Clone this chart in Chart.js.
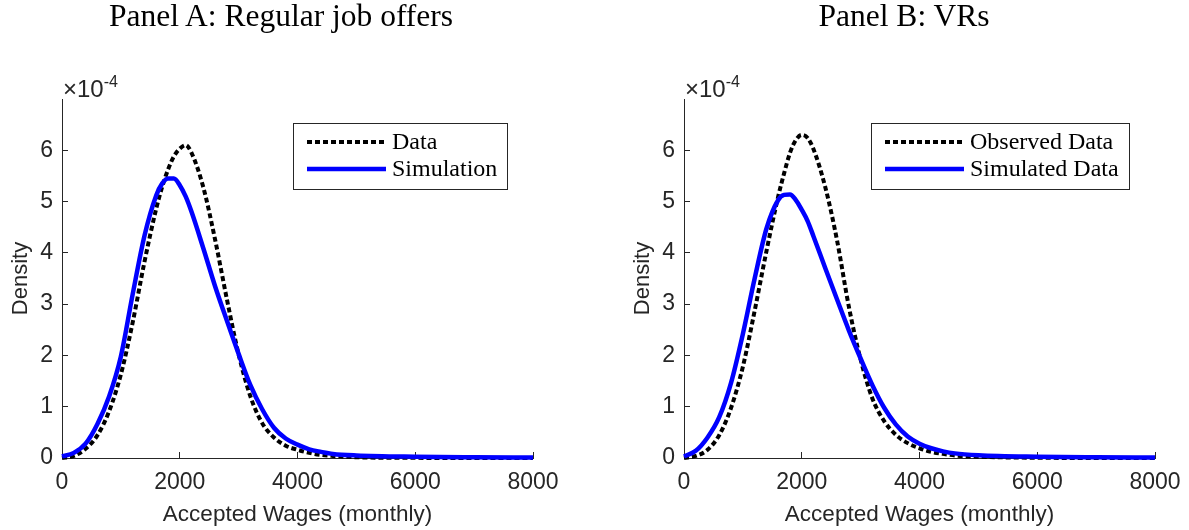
<!DOCTYPE html>
<html>
<head>
<meta charset="utf-8">
<script src="https://cdn.jsdelivr.net/npm/chart.js@4.4.1/dist/chart.umd.min.js"></script>
<style>
  html, body { margin: 0; padding: 0; background: #fff; }
  body { width: 1189px; height: 530px; position: relative; overflow: hidden; }
  .panel { position: absolute; top: 0; width: 567px; height: 530px; }
  .panel-title { position: absolute; top: -2px; font-family: "Liberation Serif", "Times New Roman", serif;
    font-size: 31.5px; line-height: 36px; text-align: center; color: #000; white-space: nowrap; }
</style>
</head>
<body>
<div class="panel" style="left:0"><canvas id="chartA" width="567" height="530"></canvas></div>
<div class="panel" style="left:622px"><canvas id="chartB" width="567" height="530"></canvas></div>
<div class="panel-title" style="left:0;width:562px">Panel A: Regular job offers</div>
<div class="panel-title" style="left:622px;width:564px">Panel B: VRs</div>
<script>
// wage grid (monthly), shared by all curves
const wages = [0, 200, 400, 600, 800, 1000, 1200, 1400, 1600, 1700, 1800, 1900, 2000, 2100, 2200,
  2400, 2600, 2800, 3000, 3200, 3400, 3600, 3800, 4000, 4200, 4400, 4600, 5000, 6000, 7000, 8000];

// densities in units of 1e-4
const panelAData = [0.00, 0.04, 0.18, 0.44, 0.91, 1.63, 2.64, 3.82, 4.86, 5.28, 5.62, 5.88, 6.03, 6.10, 5.95,
  5.28, 4.26, 3.10, 2.02, 1.20, 0.68, 0.40, 0.24, 0.16, 0.10, 0.06, 0.04, 0.015, 0.003, 0.001, 0.00];
const panelASim = [0.03, 0.10, 0.28, 0.66, 1.20, 1.98, 3.19, 4.33, 5.12, 5.35, 5.45, 5.45, 5.32, 5.10, 4.80,
  4.09, 3.35, 2.68, 2.03, 1.42, 0.95, 0.59, 0.38, 0.26, 0.17, 0.12, 0.08, 0.05, 0.025, 0.015, 0.01];
const panelBObs = [0.00, 0.04, 0.16, 0.45, 0.98, 1.78, 2.87, 4.03, 5.10, 5.55, 5.95, 6.20, 6.30, 6.24, 6.02,
  5.28, 4.24, 2.95, 1.92, 1.16, 0.72, 0.45, 0.29, 0.19, 0.12, 0.08, 0.05, 0.025, 0.005, 0.001, 0.00];
const panelBSim = [0.03, 0.14, 0.40, 0.80, 1.47, 2.42, 3.50, 4.47, 5.03, 5.13, 5.14, 5.03, 4.84, 4.62, 4.32,
  3.70, 3.09, 2.49, 1.94, 1.42, 0.98, 0.65, 0.42, 0.28, 0.19, 0.13, 0.09, 0.055, 0.026, 0.015, 0.01];

const xTicks = [0, 2000, 4000, 6000, 8000];
const yTicks = [0, 1, 2, 3, 4, 5, 6];

const axisColor = '#262626';
const sansFont = '"Liberation Sans", Arial, sans-serif';
const serifFont = '"Liberation Serif", "Times New Roman", serif';

const toPoints = ys => wages.map((w, i) => ({ x: w, y: ys[i] }));

// boxed legend in the upper right corner of the axes (matlab style)
const boxLegend = {
  id: 'boxLegend',
  afterDraw(chart) {
    const { ctx, chartArea } = chart;
    const sets = chart.data.datasets;
    ctx.save();
    ctx.font = '24px ' + serifFont;
    const textW = Math.max(...sets.map(d => ctx.measureText(d.label).width));
    const w = Math.round(14 + 79 + 6 + textW + 10);
    const h = 66;
    const right = chartArea.right - 26;
    const top = chartArea.top + 24;
    const left = right - w;
    ctx.fillStyle = '#fff';
    ctx.fillRect(left, top, w, h);
    ctx.strokeStyle = axisColor;
    ctx.lineWidth = 1;
    ctx.strokeRect(left + 0.5, top + 0.5, w, h);
    sets.forEach((d, i) => {
      const y = top + 19 + i * 27;
      ctx.beginPath();
      ctx.setLineDash(d.borderDash || []);
      ctx.lineWidth = d.borderWidth;
      ctx.strokeStyle = d.borderColor;
      ctx.moveTo(left + 14, y);
      ctx.lineTo(left + 93, y);
      ctx.stroke();
      ctx.setLineDash([]);
      ctx.fillStyle = '#000';
      ctx.textBaseline = 'middle';
      ctx.textAlign = 'left';
      ctx.fillText(d.label, left + 99, y + 1);
    });
    ctx.restore();
  }
};

// "x10^-4" multiplier above the y axis
const exponentLabel = {
  id: 'exponentLabel',
  afterDraw(chart) {
    const { ctx, chartArea } = chart;
    ctx.save();
    ctx.fillStyle = axisColor;
    ctx.textBaseline = 'alphabetic';
    ctx.textAlign = 'left';
    ctx.font = '24px ' + sansFont;
    const x0 = chartArea.left + 1;
    const base = chartArea.top - 2;
    ctx.fillText('\u00d710', x0, base);
    const w = ctx.measureText('\u00d710').width;
    ctx.font = '16px ' + sansFont;
    ctx.fillText('-4', x0 + w, base - 10.5);
    ctx.restore();
  }
};

function makeChart(id, obs, sim, labels) {
  return new Chart(document.getElementById(id), {
    type: 'line',
    data: {
      datasets: [
        { label: labels[0], data: toPoints(obs), borderColor: '#000000', borderWidth: 4,
          borderDash: [5, 3], order: 1, clip: false },
        { label: labels[1], data: toPoints(sim), borderColor: '#0000ff', borderWidth: 4.5,
          order: 0, clip: false }
      ]
    },
    options: {
      responsive: false,
      animation: false,
      layout: { padding: { top: 99, right: 34, bottom: 0, left: 0 } },
      elements: {
        point: { radius: 0 },
        line: { cubicInterpolationMode: 'monotone', borderCapStyle: 'butt', fill: false }
      },
      plugins: {
        legend: { display: false },
        tooltip: { enabled: false },
        title: { display: false }
      },
      scales: {
        x: {
          type: 'linear', min: 0, max: 8000,
          afterFit: s => { s.height = 72; s.paddingLeft = 0; s.paddingRight = 0; },
          afterBuildTicks: s => { s.ticks = xTicks.map(v => ({ value: v })); },
          grid: { drawOnChartArea: false, tickLength: -6, color: axisColor },
          border: { color: axisColor, width: 1 },
          ticks: { color: axisColor, font: { family: sansFont, size: 23 }, padding: 17,
            maxRotation: 0, callback: v => String(v) },
          title: { display: true, text: 'Accepted Wages (monthly)', color: axisColor,
            font: { family: sansFont, size: 22.5 }, padding: { top: 0, bottom: 1.5 } }
        },
        y: {
          min: 0, max: 7,
          afterFit: s => { s.width = 62; },
          afterBuildTicks: s => { s.ticks = yTicks.map(v => ({ value: v })); },
          grid: { drawOnChartArea: false, tickLength: -6, color: axisColor },
          border: { color: axisColor, width: 1 },
          ticks: { color: axisColor, font: { family: sansFont, size: 23 }, padding: 15,
            callback: v => String(v) },
          title: { display: true, text: 'Density', color: axisColor,
            font: { family: sansFont, size: 22 }, padding: { top: 8, bottom: 0 } }
        }
      }
    },
    plugins: [boxLegend, exponentLabel]
  });
}

makeChart('chartA', panelAData, panelASim, ['Data', 'Simulation']);
makeChart('chartB', panelBObs, panelBSim, ['Observed Data', 'Simulated Data']);
</script>
</body>
</html>
